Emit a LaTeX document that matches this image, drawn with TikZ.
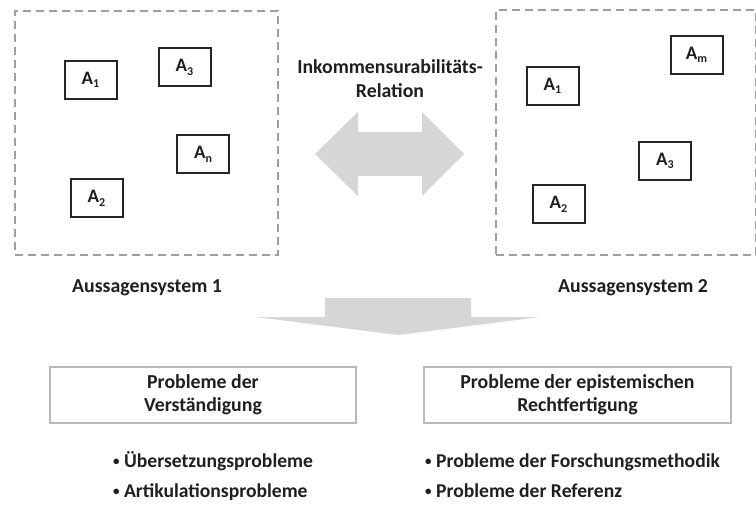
\documentclass[tikz,border=0pt]{standalone}
\usepackage{fontspec}
\setmainfont{Carlito}
\newcommand{\sub}[1]{\raisebox{-3.5pt}{\fontsize{12}{12}\selectfont #1}}
\newcommand{\dotb}{\raisebox{1.5pt}{\fontsize{13}{13}\selectfont\textbullet}}
\begin{document}
\begin{tikzpicture}[x=1pt,y=-1pt,
  sysbox/.style={draw=black!38, dash pattern=on 8pt off 5pt, line width=1.8pt, inner sep=0pt},
  abox/.style={draw=black!85, line width=2pt, minimum width=52pt, minimum height=38pt, inner sep=0pt, font=\fontsize{19}{19}\selectfont\bfseries, text=black!88},
  probbox/.style={draw=black!28, line width=1.4pt, minimum width=306pt, minimum height=56pt, inner sep=0pt, align=center, font=\fontsize{19.8}{23}\selectfont\bfseries, text=black!88},
  lbl/.style={font=\fontsize{19.8}{24}\selectfont\bfseries, text=black!88, align=center, inner sep=0pt},
  item/.style={font=\fontsize{19.6}{23}\selectfont\bfseries, text=black!88, inner sep=0pt, anchor=base west},
  bigarrow/.style={fill=black!16, draw=none}
]
\useasboundingbox (0,0) rectangle (756,508);
\fill[white] (0,0) rectangle (756,508);

% systems
\node[sysbox, minimum width=263pt, minimum height=244pt] (sys1) at (146.5,133) {};
\node[sysbox, minimum width=260pt, minimum height=245pt] (sys2) at (626,132.5) {};

% statements left
\node[abox] (l1) at (90.5,80) {A\sub{1}};
\node[abox] (l3) at (184.5,67.5) {A\sub{3}};
\node[abox] (ln) at (203,154.5) {A\sub{n}};
\node[abox] (l2) at (96.5,198.5) {A\sub{2}};

% statements right
\node[abox] (r1) at (552.5,86) {A\sub{1}};
\node[abox] (rm) at (696.5,55) {A\sub{m}};
\node[abox] (r3) at (665,161) {A\sub{3}};
\node[abox] (r2) at (558.5,204.5) {A\sub{2}};

% relation label
\node[lbl] (rel) at (390,79) {Inkommensurabilitäts-\\Relation};

% double arrow
\fill[bigarrow] (315,154) -- (358,112) -- (358,132) -- (422,132) -- (422,112)
  -- (464,154) -- (422,196) -- (422,176) -- (358,176) -- (358,196) -- cycle;

% system labels
\node[lbl, anchor=base] (s1) at (147,292) {Aussagensystem 1};
\node[lbl, anchor=base] (s2) at (633,292) {Aussagensystem 2};

% down arrow
\fill[bigarrow] (325,298) -- (471,298) -- (471,317) -- (540,317) -- (398,335)
  -- (256,317) -- (325,317) -- cycle;

% problem boxes
\node[probbox] (p1) at (203,395) {Probleme der\\Verständigung};
\node[probbox, minimum width=307pt] (p2) at (577.5,395) {Probleme der epistemischen\\Rechtfertigung};

% items
\node[item] (i1) at (113,467) {\dotb\ Übersetzungsprobleme};
\node[item] (i2) at (113,497) {\dotb\ Artikulationsprobleme};
\node[item] (i3) at (425,467) {\dotb\ Probleme der Forschungsmethodik};
\node[item] (i4) at (425,497) {\dotb\ Probleme der Referenz};
\end{tikzpicture}
\end{document}
